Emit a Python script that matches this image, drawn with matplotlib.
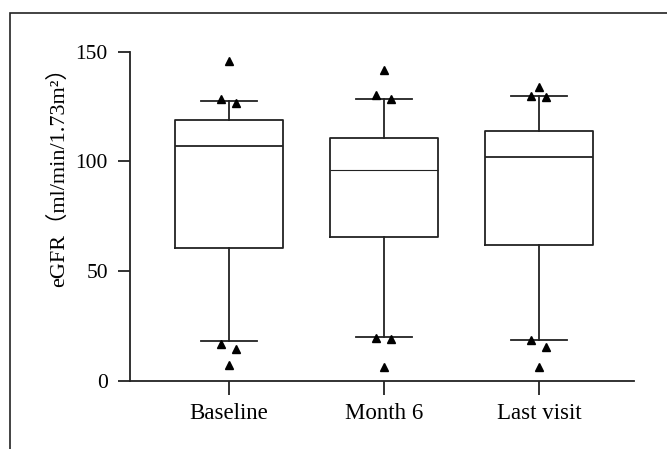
import numpy as np
import matplotlib as mpl
mpl.use('Agg')
import matplotlib.pyplot as plt
from matplotlib.patches import Rectangle

# categories and box statistics
groups = ["Baseline", "Month 6", "Last visit"]
q1 = [60.6, 65.4, 61.9]
med = [107.0, 95.9, 102.0]
q3 = [118.9, 110.5, 114.0]
whislo = [18.2, 19.8, 18.7]
whishi = [127.5, 128.5, 130.0]

# outliers per group (values) and their small horizontal jitter
fliers = [
	[145.9, 128.6, 126.8, 16.7, 14.6, 7.2],
	[141.7, 130.3, 128.6, 19.3, 19.0, 6.1],
	[133.8, 130.0, 129.5, 18.6, 15.5, 6.1],
]
jitter = [
	[0.0, -0.05, 0.045, -0.05, 0.045, 0.0],
	[0.0, -0.05, 0.045, -0.05, 0.045, 0.0],
	[0.0, -0.05, 0.045, -0.05, 0.045, 0.0],
]

yticks = [0, 50, 100, 150]

def main():
	plt.rcParams['font.family'] = ['Liberation Serif', 'Noto Sans CJK SC', 'DejaVu Sans']
	fig = plt.figure(figsize=(6.67, 4.49), dpi=100)
	ax = fig.add_axes([0.195, 0.152, 0.7555, 0.733])

	stats = []
	for i in range(len(groups)):
		stats.append(dict(label=groups[i], q1=q1[i], med=med[i], q3=q3[i],
			whislo=whislo[i], whishi=whishi[i], fliers=[]))

	pos = np.arange(1, len(groups) + 1)
	lc = '#222222'
	bp = ax.bxp(stats, positions=pos, widths=0.7, showfliers=False,
		boxprops=dict(color=lc, linewidth=1.3),
		whiskerprops=dict(color=lc, linewidth=1.3),
		capprops=dict(color=lc, linewidth=1.3),
		medianprops=dict(color=lc, linewidth=1.3),
		capwidths=0.36)
	bp['medians'][1].set_linewidth(0.8)

	for i in range(len(groups)):
		xs = pos[i] + np.array(jitter[i])
		ax.plot(xs, fliers[i], linestyle='none', marker='^', markersize=6,
			color='black', clip_on=False)

	ax.set_xlim(0.361, 3.613)
	ax.set_ylim(0, 150)
	ax.set_yticks(yticks)
	ax.set_xticks(pos)
	ax.set_xticklabels(groups)
	ax.spines['top'].set_visible(False)
	ax.spines['right'].set_visible(False)
	for s in ['left', 'bottom']:
		ax.spines[s].set_color(lc)
		ax.spines[s].set_linewidth(1.3)
	ax.tick_params(axis='y', length=9, width=1.3, color=lc, labelsize=15.5, pad=7)
	ax.tick_params(axis='x', length=10, width=1.3, color=lc, labelsize=16.5, pad=6)

	ax.set_ylabel("eGFR（ml/min/1.73m²）", fontsize=16)
	ax.yaxis.set_label_coords(-0.122, 0.635)

	# outer frame of the original figure
	fig.add_artist(Rectangle((0.015, -0.5), 2, 1.5 - 0.028, transform=fig.transFigure,
		fill=False, edgecolor='#222222', linewidth=1.2, clip_on=False))

	plt.savefig("out.png", dpi=100)

if __name__ == '__main__':
	main()
